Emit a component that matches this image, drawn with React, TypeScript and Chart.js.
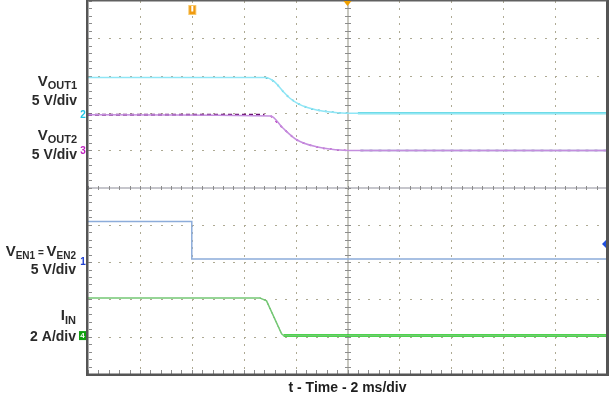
import React, { useEffect, useRef } from "react";
import { Chart, registerables } from "chart.js";

Chart.register(...registerables);

// time axis in ms (2 ms/div, 10 divisions), vertical in screen divisions from centre
const tVout1 = [-10, -3.15, -2.81, -2.5, -2.23, -1.96, -1.58, -1.19, -0.58, 0.08, 10];
const vVout1 = [2.95, 2.95, 2.83, 2.59, 2.4, 2.27, 2.15, 2.08, 2.02, 1.99, 1.99];
const tVout1Settled = [0.4, 10];
const vVout1Settled = [1.99, 1.99];

const tVout2 = [-10, -2.96, -2.5, -1.96, -1.19, -0.42, 0.08, 10];
const vVout2 = [1.95, 1.92, 1.6, 1.28, 1.09, 1.01, 0.99, 0.99];
const tVout2NoiseL = [-10, -3.2];
const vVout2NoiseL = [1.95, 1.95];
const tVout2NoiseR = [0.5, 10];
const vVout2NoiseR = [0.99, 0.99];

const tVen = [-10, -6, -6, 10];
const vVen = [-0.91, -0.91, -1.92, -1.92];

const tIin = [-10, -3.38, -3.12, -2.54, -2.46, 10];
const vIin = [-2.96, -2.96, -3.04, -3.92, -3.97, -3.97];
const tIinSettled = [-2.46, 10];
const vIinSettled = [-3.97, -3.97];

const xTitle = "t - Time - 2 ms/div";

const pts = (t: number[], v: number[]) => t.map((x, i) => ({ x, y: v[i] }));

const FONT = '"Liberation Sans", Arial, sans-serif';

function drawParts(
  ctx: CanvasRenderingContext2D,
  parts: { t: string; s: number; dy: number }[],
  right: number,
  base: number
) {
  let w = 0;
  for (const p of parts) {
    ctx.font = `bold ${p.s}px ${FONT}`;
    w += ctx.measureText(p.t).width;
  }
  let x = right - w;
  ctx.textAlign = "left";
  ctx.textBaseline = "alphabetic";
  for (const p of parts) {
    ctx.font = `bold ${p.s}px ${FONT}`;
    ctx.fillText(p.t, x, base + p.dy);
    x += ctx.measureText(p.t).width;
  }
}

const scopePlugin = {
  id: "scope",
  beforeDatasetsDraw(chart: any) {
    const { ctx, chartArea, scales } = chart;
    const { left, right, top, bottom } = chartArea;
    const xs = scales.x;
    const ys = scales.y;
    ctx.save();
    // dotted grid
    ctx.fillStyle = "#aeaa94";
    for (let t = -8; t <= 8; t += 2) {
      if (t === 0) continue;
      const px = Math.round(xs.getPixelForValue(t));
      for (let k = -25; k <= 25; k++) {
        const py = Math.round(ys.getPixelForValue(k * 0.2));
        ctx.fillRect(px, py, 1, 2);
      }
    }
    for (let v = -4; v <= 4; v++) {
      if (v === 0) continue;
      const py = Math.round(ys.getPixelForValue(v));
      for (let k = -25; k <= 25; k++) {
        const px = Math.round(xs.getPixelForValue(k * 0.4));
        ctx.fillRect(px, py, 2, 1);
      }
    }
    // centre lines
    const cx = xs.getPixelForValue(0);
    const cy = ys.getPixelForValue(0);
    ctx.fillStyle = "#c6c6cc";
    ctx.fillRect(left, Math.round(cy) - 1, right - left, 2);
    ctx.fillStyle = "#c8c8c0";
    ctx.fillRect(Math.round(cx) - 1, top, 2, bottom - top);
    ctx.fillStyle = "#8c8c8c";
    for (let k = -25; k <= 25; k++) {
      const px = Math.round(xs.getPixelForValue(k * 0.4));
      ctx.fillRect(px, Math.round(cy) - 2, 1, 4);
      ctx.fillRect(px, bottom - 4, 1, 4);
    }
    for (let k = -25; k <= 25; k++) {
      const py = Math.round(ys.getPixelForValue(k * 0.2));
      ctx.fillRect(Math.round(cx) - 3, py, 6, 1);
      ctx.fillRect(left + 1, py, 3, 1);
    }
    ctx.restore();
  },
  afterDraw(chart: any) {
    const { ctx, chartArea, scales } = chart;
    const { left, right, top, bottom } = chartArea;
    const xs = scales.x;
    const ys = scales.y;
    ctx.save();
    // frame
    ctx.fillStyle = "#555555";
    ctx.fillRect(left - 2, top - 1, 2.5, bottom - top + 3);
    ctx.fillRect(left - 2, bottom - 0.5, right - left + 4, 2.5);
    ctx.fillRect(right - 1, 0, 3, bottom + 2);
    ctx.fillStyle = "#606060";
    ctx.fillRect(left, 0, right - left, 1.5);

    // channel markers
    const mk = (txt: string, color: string, v: number) => {
      ctx.fillStyle = color;
      ctx.font = `bold 10px ${FONT}`;
      ctx.textAlign = "center";
      ctx.textBaseline = "middle";
      ctx.fillText(txt, 83, ys.getPixelForValue(v) + 0.5);
    };
    mk("2", "#20c4e4", 1.95);
    mk("3", "#c020c0", 0.99);
    mk("1", "#2040d0", -2.0);
    const gy = ys.getPixelForValue(-3.97);
    ctx.fillStyle = "#10a010";
    ctx.fillRect(79, gy - 4.5, 7, 9);
    ctx.fillStyle = "#ffffff";
    ctx.font = `bold 8px ${FONT}`;
    ctx.textAlign = "center";
    ctx.textBaseline = "middle";
    ctx.fillText("4", 82.5, gy + 0.5);

    // trigger markers
    const tx = xs.getPixelForValue(-6);
    ctx.fillStyle = "#f7c86a";
    ctx.fillRect(tx - 3.5, 5, 8, 10);
    ctx.fillStyle = "#f09a10";
    ctx.fillRect(tx - 2.5, 6, 6, 8);
    ctx.fillStyle = "#ffffff";
    ctx.fillRect(tx - 0.5, 6, 2, 5.5);
    const cx = xs.getPixelForValue(0);
    ctx.fillStyle = "#f0a000";
    ctx.beginPath();
    ctx.moveTo(cx - 4, 1);
    ctx.lineTo(cx + 4, 1);
    ctx.lineTo(cx, 6);
    ctx.closePath();
    ctx.fill();
    ctx.fillStyle = "#2050e0";
    ctx.beginPath();
    ctx.moveTo(602, 244);
    ctx.lineTo(606, 240);
    ctx.lineTo(606, 248);
    ctx.closePath();
    ctx.fill();

    // labels
    ctx.fillStyle = "#2a2a2a";
    drawParts(ctx, [{ t: "V", s: 15, dy: 0 }, { t: "OUT1", s: 11, dy: 3 }], 77, 86);
    drawParts(ctx, [{ t: "5 V/div", s: 14, dy: 0 }], 77, 105);
    drawParts(ctx, [{ t: "V", s: 15, dy: 0 }, { t: "OUT2", s: 11, dy: 3 }], 77, 140);
    drawParts(ctx, [{ t: "5 V/div", s: 14, dy: 0 }], 77, 159);
    drawParts(
      ctx,
      [
        { t: "V", s: 15, dy: 0 },
        { t: "EN1", s: 10, dy: 3 },
        { t: " = ", s: 10, dy: 0 },
        { t: "V", s: 15, dy: 0 },
        { t: "EN2", s: 10, dy: 3 },
      ],
      76,
      256
    );
    drawParts(ctx, [{ t: "5 V/div", s: 14, dy: 0 }], 76, 274);
    drawParts(ctx, [{ t: "I", s: 15, dy: 0 }, { t: "IN", s: 11, dy: 4 }], 76, 320);
    drawParts(ctx, [{ t: "2 A/div", s: 14, dy: 0 }], 76, 341);

    ctx.font = `bold 14px ${FONT}`;
    ctx.textAlign = "center";
    ctx.textBaseline = "alphabetic";
    ctx.fillStyle = "#1e1e1e";
    ctx.fillText(xTitle, cx, 392);
    ctx.restore();
  },
};

export default function App() {
  const ref = useRef<HTMLCanvasElement | null>(null);
  useEffect(() => {
    if (!ref.current) return;
    const chart = new Chart(ref.current, {
      type: "line",
      data: {
        datasets: [
          { data: pts(tVout1, vVout1), borderColor: "#8fe6f6", borderWidth: 1.5, cubicInterpolationMode: "monotone" },
          { data: pts(tVout1, vVout1).slice(1, 10), borderColor: "#1aa6b4", borderWidth: 1.5, borderDash: [2, 5], cubicInterpolationMode: "monotone" },
          { data: pts(tVout1Settled, vVout1Settled), borderColor: "#10c2c8", borderWidth: 2 },
          { data: pts(tVout2, vVout2), borderColor: "#c48ede", borderWidth: 1.5, cubicInterpolationMode: "monotone" },
          { data: pts(tVout2, vVout2).slice(1, 7), borderColor: "#b010b0", borderWidth: 1.5, borderDash: [2, 5], cubicInterpolationMode: "monotone" },
          { data: pts(tVout2NoiseL, vVout2NoiseL), borderColor: "#6a1070", borderWidth: 2, borderDash: [4, 3] },
          { data: pts(tVout2NoiseR, vVout2NoiseR), borderColor: "#c6cce6", borderWidth: 2 },
          { data: pts(tVout2NoiseR, vVout2NoiseR), borderColor: "#502878", borderWidth: 1.5, borderDash: [3, 6] },
          { data: pts(tVen, vVen), borderColor: "#8cacda", borderWidth: 1.5 },
          { data: pts(tIin, vIin), borderColor: "#74c874", borderWidth: 1.5 },
          { data: pts(tIin, vIin).slice(1, 5), borderColor: "#2a6a2a", borderWidth: 1, borderDash: [2, 3] },
          { data: pts(tIinSettled, vIinSettled), borderColor: "#00cc00", borderWidth: 2.5 },
        ] as any,
      },
      options: {
        animation: false,
        responsive: false,
        layout: { padding: { left: 88, right: 2, top: 1, bottom: 21 } },
        elements: { point: { radius: 0 }, line: { tension: 0 } },
        plugins: { legend: { display: false }, tooltip: { enabled: false } },
        scales: {
          x: { type: "linear", min: -10, max: 10, display: false },
          y: { type: "linear", min: -5, max: 5, display: false },
        },
      },
      plugins: [scopePlugin],
    });
    return () => chart.destroy();
  }, []);
  return (
    <div style={{ position: "absolute", left: 0, top: 0, width: 609, height: 395, background: "#fff" }}>
      <canvas ref={ref} width={609} height={395} />
    </div>
  );
}
